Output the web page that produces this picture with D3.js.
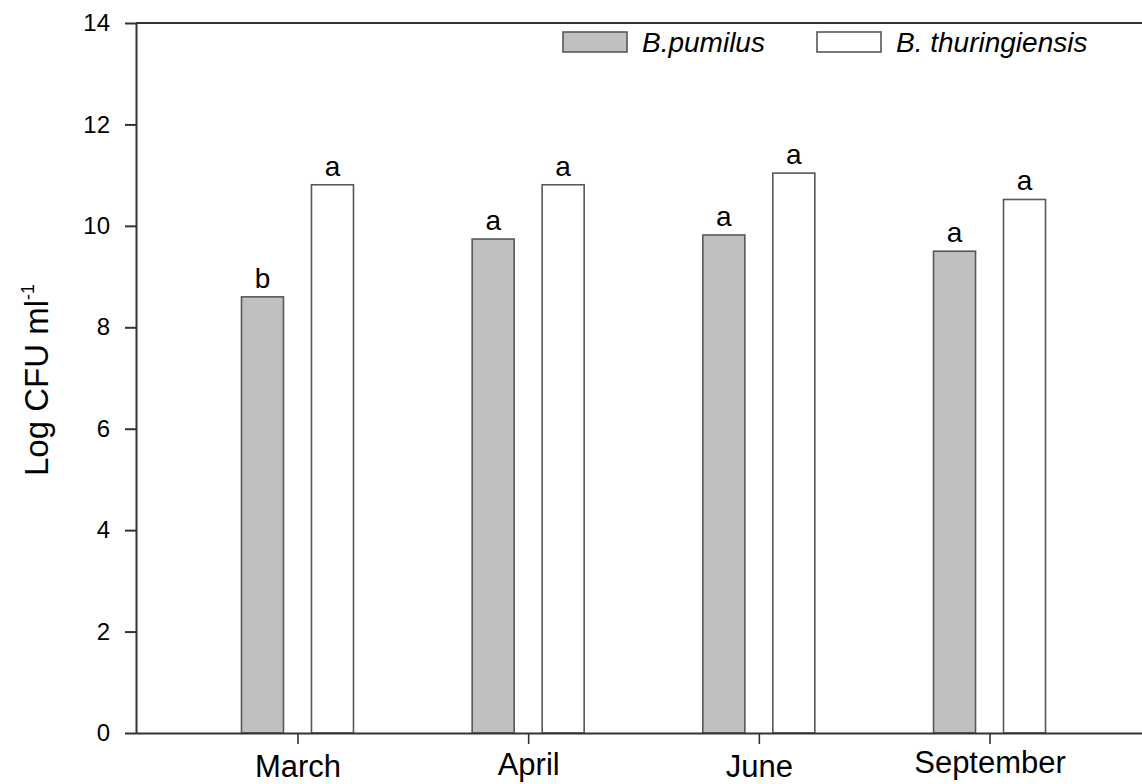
<!DOCTYPE html>
<html>
<head>
<meta charset="utf-8">
<script src="https://cdn.jsdelivr.net/npm/d3@7"></script>
<style>
  html, body { margin: 0; padding: 0; background: #fff; }
  svg { display: block; }
  text { font-family: "Liberation Sans", Arial, sans-serif; fill: #000; }
</style>
</head>
<body>
<svg id="chart" width="1142" height="784"></svg>
<script>
// ---- data ----
const months = ["March", "April", "June", "September"];
const seriesNames = ["B.pumilus", "B. thuringiensis"];
const pumilus = [8.60, 9.74, 9.82, 9.50];
const thuringiensis = [10.81, 10.81, 11.04, 10.52];
const pumilusLetters = ["b", "a", "a", "a"];
const thuringiensisLetters = ["a", "a", "a", "a"];
const yTicks = [0, 2, 4, 6, 8, 10, 12, 14];

// ---- layout ----
const mLeft = 136, mRight = 1151, mTop = 23, mBottom = 733;
const svg = d3.select("#chart");

const y = d3.scaleLinear().domain([0, 14]).range([mBottom, mTop]);
const x = d3.scalePoint().domain(months).range([mLeft, mRight]).padding(0.7);
const inner = d3.scaleBand().domain(seriesNames).range([-56, 56]).paddingInner(0.4).paddingOuter(0);

const fills = ["#c0c0c0", "#ffffff"];
const axisColor = "#333";

const rows = months.map((m, i) => ({
  month: m,
  vals: [
    { s: seriesNames[0], v: pumilus[i], letter: pumilusLetters[i], fill: fills[0] },
    { s: seriesNames[1], v: thuringiensis[i], letter: thuringiensisLetters[i], fill: fills[1] }
  ]
}));

// bars
const groups = svg.append("g").selectAll("g").data(rows).join("g")
  .attr("transform", d => `translate(${x(d.month)},0)`);

groups.selectAll("rect").data(d => d.vals).join("rect")
  .attr("x", d => inner(d.s))
  .attr("width", inner.bandwidth())
  .attr("y", d => y(d.v))
  .attr("height", d => y(0) - y(d.v))
  .attr("fill", d => d.fill)
  .attr("stroke", "#585858")
  .attr("stroke-width", 1.6);

groups.selectAll("text.letter").data(d => d.vals).join("text")
  .attr("class", "letter")
  .attr("x", d => inner(d.s) + inner.bandwidth() / 2)
  .attr("y", d => y(d.v) - 9)
  .attr("text-anchor", "middle")
  .attr("font-size", 28)
  .text(d => d.letter);

// frame lines (top + right)
svg.append("line").attr("x1", mLeft).attr("x2", mRight).attr("y1", mTop).attr("y2", mTop)
  .attr("stroke", axisColor).attr("stroke-width", 2);
svg.append("line").attr("x1", mRight).attr("x2", mRight).attr("y1", mTop).attr("y2", mBottom)
  .attr("stroke", axisColor).attr("stroke-width", 2);

// y axis
const yAxis = svg.append("g").attr("transform", `translate(${mLeft},0)`)
  .call(d3.axisLeft(y).tickValues(yTicks).tickFormat(d3.format("d")).tickSize(11).tickSizeOuter(0).tickPadding(15));
yAxis.select(".domain").attr("stroke", axisColor).attr("stroke-width", 2);
yAxis.selectAll(".tick line").attr("stroke", axisColor).attr("stroke-width", 2);
yAxis.selectAll(".tick text").attr("font-size", 24).attr("font-family", "Liberation Sans, Arial, sans-serif").attr("fill", "#000");

// x axis
const labelNudge = { "March": -1.5, "April": -3, "June": -1.5, "September": -5 };
const xAxis = svg.append("g").attr("transform", `translate(0,${mBottom})`)
  .call(d3.axisBottom(x).tickSize(11).tickSizeOuter(0).tickPadding(12));
xAxis.select(".domain").attr("d", `M${mLeft},0.5H${mRight}`).attr("stroke", axisColor).attr("stroke-width", 2);
xAxis.selectAll(".tick line").attr("stroke", axisColor).attr("stroke-width", 1.6);
xAxis.selectAll(".tick text").attr("font-size", 31).attr("font-family", "Liberation Sans, Arial, sans-serif").attr("fill", "#000")
  .attr("dy", d => (0.71 + labelNudge[d] / 31) + "em");

// y title
const yt = svg.append("text")
  .attr("transform", `translate(48,${(mTop + mBottom) / 2 + 2}) rotate(-90)`)
  .attr("text-anchor", "middle")
  .attr("font-size", 33);
yt.append("tspan").text("Log CFU ml");
yt.append("tspan").attr("font-size", 18).attr("dy", -14).text("-1");

// legend
const legend = svg.append("g");
const legX = [563, 817];
seriesNames.forEach((s, i) => {
  legend.append("rect").attr("x", legX[i]).attr("y", 32).attr("width", 64).attr("height", 20)
    .attr("fill", fills[i]).attr("stroke", "#585858").attr("stroke-width", 1.6);
  legend.append("text").attr("x", legX[i] + 79).attr("y", 52)
    .attr("font-size", 28).attr("font-style", "italic").text(s);
});
</script>
</body>
</html>
